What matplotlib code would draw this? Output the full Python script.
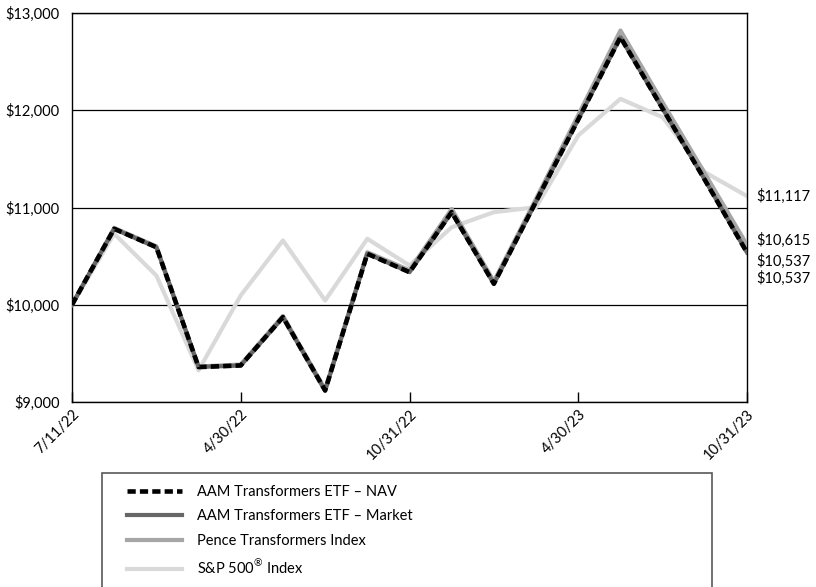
import matplotlib.pyplot as plt
from matplotlib.patches import Rectangle

plt.rcParams['font.family'] = ['Lato', 'DejaVu Sans']
plt.rcParams['mathtext.fontset'] = 'custom'
plt.rcParams['mathtext.rm'] = 'Lato'

# growth of $10,000, 17 observations
x_labels = ['7/11/22', '4/30/22', '10/31/22', '4/30/23', '10/31/23']
nav = [10000, 10781, 10592, 9359, 9376, 9873, 9119, 10524, 10335, 10952,
       10216, 11062, 11905, 12751, 12017, 11284, 10537]
market = [10000, 10780, 10590, 9360, 9375, 9870, 9115, 10525, 10335, 10950,
          10215, 11060, 11905, 12750, 12015, 11285, 10537]
pence = [10000, 10790, 10600, 9365, 9385, 9885, 9130, 10540, 10355, 10985,
         10240, 11090, 11950, 12820, 12080, 11350, 10615]
sp500 = [10000, 10730, 10300, 9325, 10096, 10661, 10044, 10678, 10404, 10797,
         10952, 11003, 11740, 12117, 11928, 11363, 11117]

end_labels = ['$11,117', '$10,615', '$10,537', '$10,537']
end_label_y = [11117, 10660, 10445, 10270]

names = ['AAM Transformers ETF \u2013 NAV', 'AAM Transformers ETF \u2013 Market',
         'Pence Transformers Index', 'S&P 500$^{\\mathrm{\u00ae}}$ Index']

fig = plt.figure(figsize=(8.16, 5.87), dpi=100)
ax = fig.add_axes([72/816, 1-402/587, 675/816, 389/587])

xs = list(range(len(nav)))
ax.plot(xs, sp500, color='#d9d9d9', lw=3, label=names[3], zorder=2)
ax.plot(xs, pence, color='#a6a6a6', lw=3, label=names[2], zorder=3)
ax.plot(xs, market, color='#666666', lw=3, label=names[1], zorder=4)
ax.plot(xs, nav, color='black', lw=3.3, dashes=(1.8, 0.9), label=names[0], zorder=5)

ax.set_xlim(0, 16)
ax.set_ylim(9000, 13000)
ax.set_yticks([9000, 10000, 11000, 12000, 13000])
ax.set_yticklabels(['$9,000', '$10,000', '$11,000', '$12,000', '$13,000'], fontsize=10.5)
ax.tick_params(axis='y', length=0, pad=9)
ax.set_xticks([0, 4, 8, 12, 16])
ax.set_xticklabels(x_labels, rotation=45, ha='right', rotation_mode='anchor', fontsize=10.5)
ax.tick_params(axis='x', direction='in', length=7, width=1, pad=4, color='black')
ax.grid(axis='y', color='black', lw=0.9)
ax.set_axisbelow(True)
for s in ax.spines.values():
    s.set_color('black')
    s.set_linewidth(1)

for txt, yv in zip(end_labels, end_label_y):
    ax.annotate(txt, xy=(16, yv), xytext=(7, 0), textcoords='offset points',
                va='center', ha='left', fontsize=10.5, annotation_clip=False)

# legend box, runs off the bottom edge
fig.patches.append(Rectangle((102/816, -0.05), 610/816, 1-473/587+0.05,
                             transform=fig.transFigure, fill=False,
                             edgecolor='#595959', lw=1.2))
h, l = ax.get_legend_handles_labels()
order = [3, 2, 1, 0]
fig.legend([h[i] for i in order], [l[i] for i in order],
           loc='upper left', bbox_to_anchor=(127/816, 1-485/587),
           frameon=False, fontsize=10.5, handlelength=3.8, handletextpad=1.0,
           labelspacing=0.72, borderpad=0, borderaxespad=0)

fig.savefig('out.png', dpi=100)
